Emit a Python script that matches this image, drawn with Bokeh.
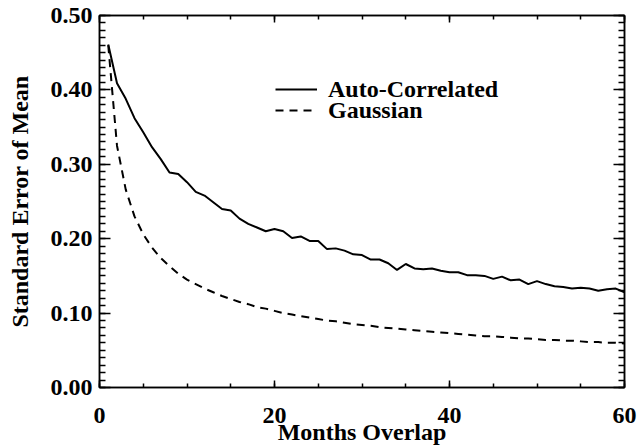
from bokeh.plotting import figure
from bokeh.models import (Range1d, SingleIntervalTicker, NumeralTickFormatter,
                          LinearAxis, Legend, LegendItem, CustomJSTickFormatter)
from bokeh.embed import file_html
from bokeh.resources import INLINE

months = list(range(1, 61))
auto_correlated = [0.461, 0.409, 0.388, 0.362, 0.343, 0.323, 0.307, 0.289, 0.287, 0.276,
                   0.263, 0.258, 0.249, 0.240, 0.238, 0.227, 0.220, 0.215, 0.210, 0.213,
                   0.210, 0.201, 0.203, 0.197, 0.197, 0.186, 0.187, 0.184, 0.179, 0.178,
                   0.172, 0.172, 0.167, 0.158, 0.166, 0.160, 0.159, 0.160, 0.157, 0.155,
                   0.155, 0.151, 0.151, 0.150, 0.146, 0.149, 0.144, 0.145, 0.139, 0.143,
                   0.139, 0.136, 0.135, 0.133, 0.134, 0.133, 0.130, 0.132, 0.133, 0.128]
gaussian = [0.460, 0.325, 0.266, 0.230, 0.206, 0.188, 0.174, 0.163, 0.153, 0.145,
            0.139, 0.133, 0.128, 0.123, 0.119, 0.115, 0.112, 0.108, 0.106, 0.103,
            0.100, 0.098, 0.096, 0.094, 0.092, 0.090, 0.089, 0.087, 0.085, 0.084,
            0.083, 0.081, 0.080, 0.079, 0.078, 0.077, 0.076, 0.075, 0.074, 0.073,
            0.072, 0.071, 0.070, 0.069, 0.069, 0.068, 0.067, 0.066, 0.066, 0.065,
            0.064, 0.064, 0.063, 0.063, 0.062, 0.061, 0.061, 0.060, 0.060, 0.059]
series_names = ["Auto-Correlated", "Gaussian"]
x_label = "Months Overlap"
y_label = "Standard Error of Mean"

FONT = "Liberation Serif"

p = figure(width=638, height=448, output_backend="svg", toolbar_location=None,
           x_range=Range1d(0, 60), y_range=Range1d(0, 0.5),
           x_axis_location=None, y_axis_location=None,
           min_border_left=99, min_border_right=14, min_border_top=15, min_border_bottom=61)
p.grid.visible = False
p.outline_line_color = "black"
p.outline_line_width = 1.5
p.background_fill_color = "white"
p.border_fill_color = "white"

blank = CustomJSTickFormatter(code="return ''")


def style(ax, major_in, minor_in, labels=True):
    ax.major_tick_in = major_in
    ax.major_tick_out = 0
    ax.minor_tick_in = minor_in
    ax.minor_tick_out = 0
    ax.axis_line_color = "black"
    ax.axis_line_width = 1.5
    ax.major_tick_line_width = 1.5
    ax.minor_tick_line_width = 1.5
    ax.major_tick_line_color = "black"
    ax.minor_tick_line_color = "black"
    ax.major_label_text_font = FONT
    ax.major_label_text_font_style = "bold"
    ax.major_label_text_color = "black"
    ax.axis_label_text_font = FONT
    ax.axis_label_text_font_style = "bold"
    ax.axis_label_text_color = "black"
    if labels:
        ax.major_label_text_font_size = "24px"
        ax.axis_label_text_font_size = "24px"
    else:
        ax.formatter = blank
        ax.major_label_text_font_size = "1px"
        ax.major_label_standoff = 0


def xt():
    return SingleIntervalTicker(interval=20, num_minor_ticks=4)


def yt():
    return SingleIntervalTicker(interval=0.1, num_minor_ticks=10)


xb = LinearAxis(ticker=xt(), axis_label=x_label)
style(xb, 7, 4)
xb.major_label_standoff = 20
xb.axis_label_standoff = -7
p.add_layout(xb, "below")

xa = LinearAxis(ticker=xt())
style(xa, 7, 4, labels=False)
p.add_layout(xa, "above")

yl = LinearAxis(ticker=yt(), axis_label=y_label,
                formatter=NumeralTickFormatter(format="0.00"))
style(yl, 11, 6)
yl.major_label_standoff = 7
yl.axis_label_standoff = 15
p.add_layout(yl, "left")

yr = LinearAxis(ticker=yt())
style(yr, 11, 6, labels=False)
p.add_layout(yr, "right")

r1 = p.line(months, auto_correlated, line_color="black", line_width=2)
r2 = p.line(months, gaussian, line_color="black", line_width=2, line_dash="8 6")

for name, rend, loc in [(series_names[0], r1, (176, 284)), (series_names[1], r2, (176, 263))]:
    lg = Legend(items=[LegendItem(label=name, renderers=[rend])], location=loc,
                padding=0, margin=0, spacing=0, border_line_color=None,
                background_fill_alpha=0, glyph_width=42, glyph_height=28,
                label_height=28, label_standoff=11,
                label_text_font=FONT, label_text_font_style="bold",
                label_text_font_size="24px", label_text_color="black")
    p.add_layout(lg, "center")

open("out.html", "w").write(file_html(p, INLINE))
